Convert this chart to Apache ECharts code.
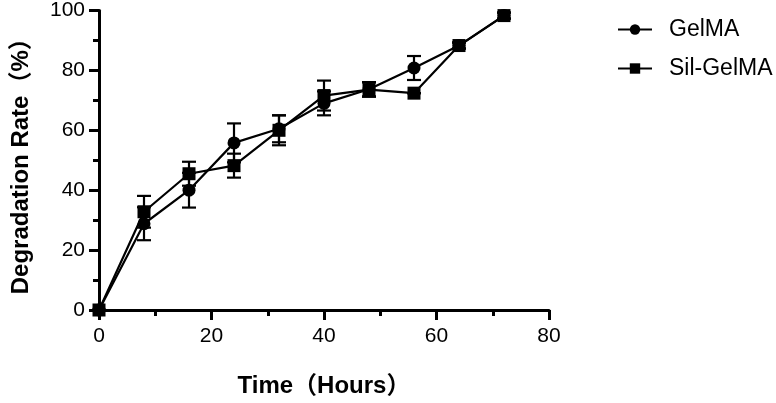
<!DOCTYPE html>
<html><head><meta charset="utf-8">
<script src="https://cdn.jsdelivr.net/npm/echarts@6/dist/echarts.min.js"></script>
<style>html,body{margin:0;padding:0;background:#fff}#c{width:776px;height:403px}</style>
</head><body><div id="c"></div>
<script>
var hours = [0, 8, 16, 24, 32, 40, 48, 56, 64, 72];
var gelma = [0, 28.8, 40, 55.8, 60.5, 69, 73.7, 80.8, 88.3, 98.3];
var gelmaSD = [0, 5.5, 5.8, 6.5, 4.5, 4, 2.4, 4, 1, 1];
var sil = [0, 32.8, 45.5, 48.2, 60, 71.6, 73.6, 72.4, 88.3, 98.3];
var silSD = [0, 5.3, 4, 4, 5, 5, 2.4, 0, 1, 1];
var xTicks = [0, 20, 40, 60, 80];
var yTicks = [0, 20, 40, 60, 80, 100];

var font = 'Liberation Sans, Arial, Helvetica, Noto Sans CJK SC, sans-serif';
function pairs(v){ return hours.map(function(h,i){ return [h, v[i]]; }); }
function errData(v, sd){ return hours.map(function(h,i){ return [h, v[i]-sd[i], v[i]+sd[i]]; }); }
function errRender(params, api){
  var lo = api.coord([api.value(0), api.value(1)]);
  var hi = api.coord([api.value(0), api.value(2)]);
  var w = 7;
  var st = {stroke:'#000', lineWidth:2.2};
  return {type:'group', children:[
    {type:'line', shape:{x1:lo[0],y1:lo[1],x2:hi[0],y2:hi[1]}, style:st},
    {type:'line', shape:{x1:lo[0]-w,y1:lo[1],x2:lo[0]+w,y2:lo[1]}, style:st},
    {type:'line', shape:{x1:hi[0]-w,y1:hi[1],x2:hi[0]+w,y2:hi[1]}, style:st}
  ]};
}
var chart = echarts.init(document.getElementById('c'), null, {renderer:'canvas'});
chart.setOption({
  animation:false,
  backgroundColor:'#fff',
  textStyle:{fontFamily:font},
  grid:{left:99, right:227, top:10, bottom:93, containLabel:false},
  legend:{
    orient:'vertical', left:617, top:18, padding:0, itemGap:16, itemWidth:34, itemHeight:13,
    textStyle:{fontSize:23, color:'#000', fontFamily:font, padding:[0,0,0,12]},
    data:['GelMA','Sil-GelMA']
  },
  xAxis:{
    type:'value', min:0, max:80, interval:20,
    name:'Time（Hours）', nameLocation:'middle', nameGap:64,
    nameTextStyle:{fontSize:24, fontWeight:'bold', color:'#000', fontFamily:font},
    axisLine:{lineStyle:{color:'#000', width:3}},
    axisTick:{show:true, length:10, lineStyle:{color:'#000', width:3}},
    minorTick:{show:true, splitNumber:2, length:6, lineStyle:{color:'#000', width:3}},
    splitLine:{show:false},
    axisLabel:{fontSize:21, color:'#000', margin:16, fontFamily:font,
      formatter:function(v){ return xTicks.indexOf(v)>=0 ? String(v) : ''; }}
  },
  yAxis:{
    type:'value', min:0, max:100, interval:20,
    name:'Degradation Rate（%）', nameLocation:'middle', nameGap:66,
    nameTextStyle:{fontSize:24, fontWeight:'bold', color:'#000', fontFamily:font},
    axisLine:{show:true, lineStyle:{color:'#000', width:3}},
    axisTick:{show:true, length:10, lineStyle:{color:'#000', width:3}},
    minorTick:{show:true, splitNumber:2, length:6, lineStyle:{color:'#000', width:3}},
    splitLine:{show:false},
    axisLabel:{fontSize:21, color:'#000', margin:14, fontFamily:font,
      formatter:function(v){ return yTicks.indexOf(v)>=0 ? String(v) : ''; }}
  },
  series:[
    {type:'custom', name:'errG', renderItem:errRender, data:errData(gelma, gelmaSD), z:3, silent:true},
    {type:'custom', name:'errS', renderItem:errRender, data:errData(sil, silSD), z:3, silent:true},
    {type:'line', name:'GelMA', data:pairs(gelma), symbol:'circle', symbolSize:13,
      lineStyle:{color:'#000', width:2.2}, itemStyle:{color:'#000'}, z:4},
    {type:'line', name:'Sil-GelMA', data:pairs(sil), symbol:'rect', symbolSize:13,
      lineStyle:{color:'#000', width:2.2}, itemStyle:{color:'#000'}, z:4}
  ]
});
</script></body></html>
